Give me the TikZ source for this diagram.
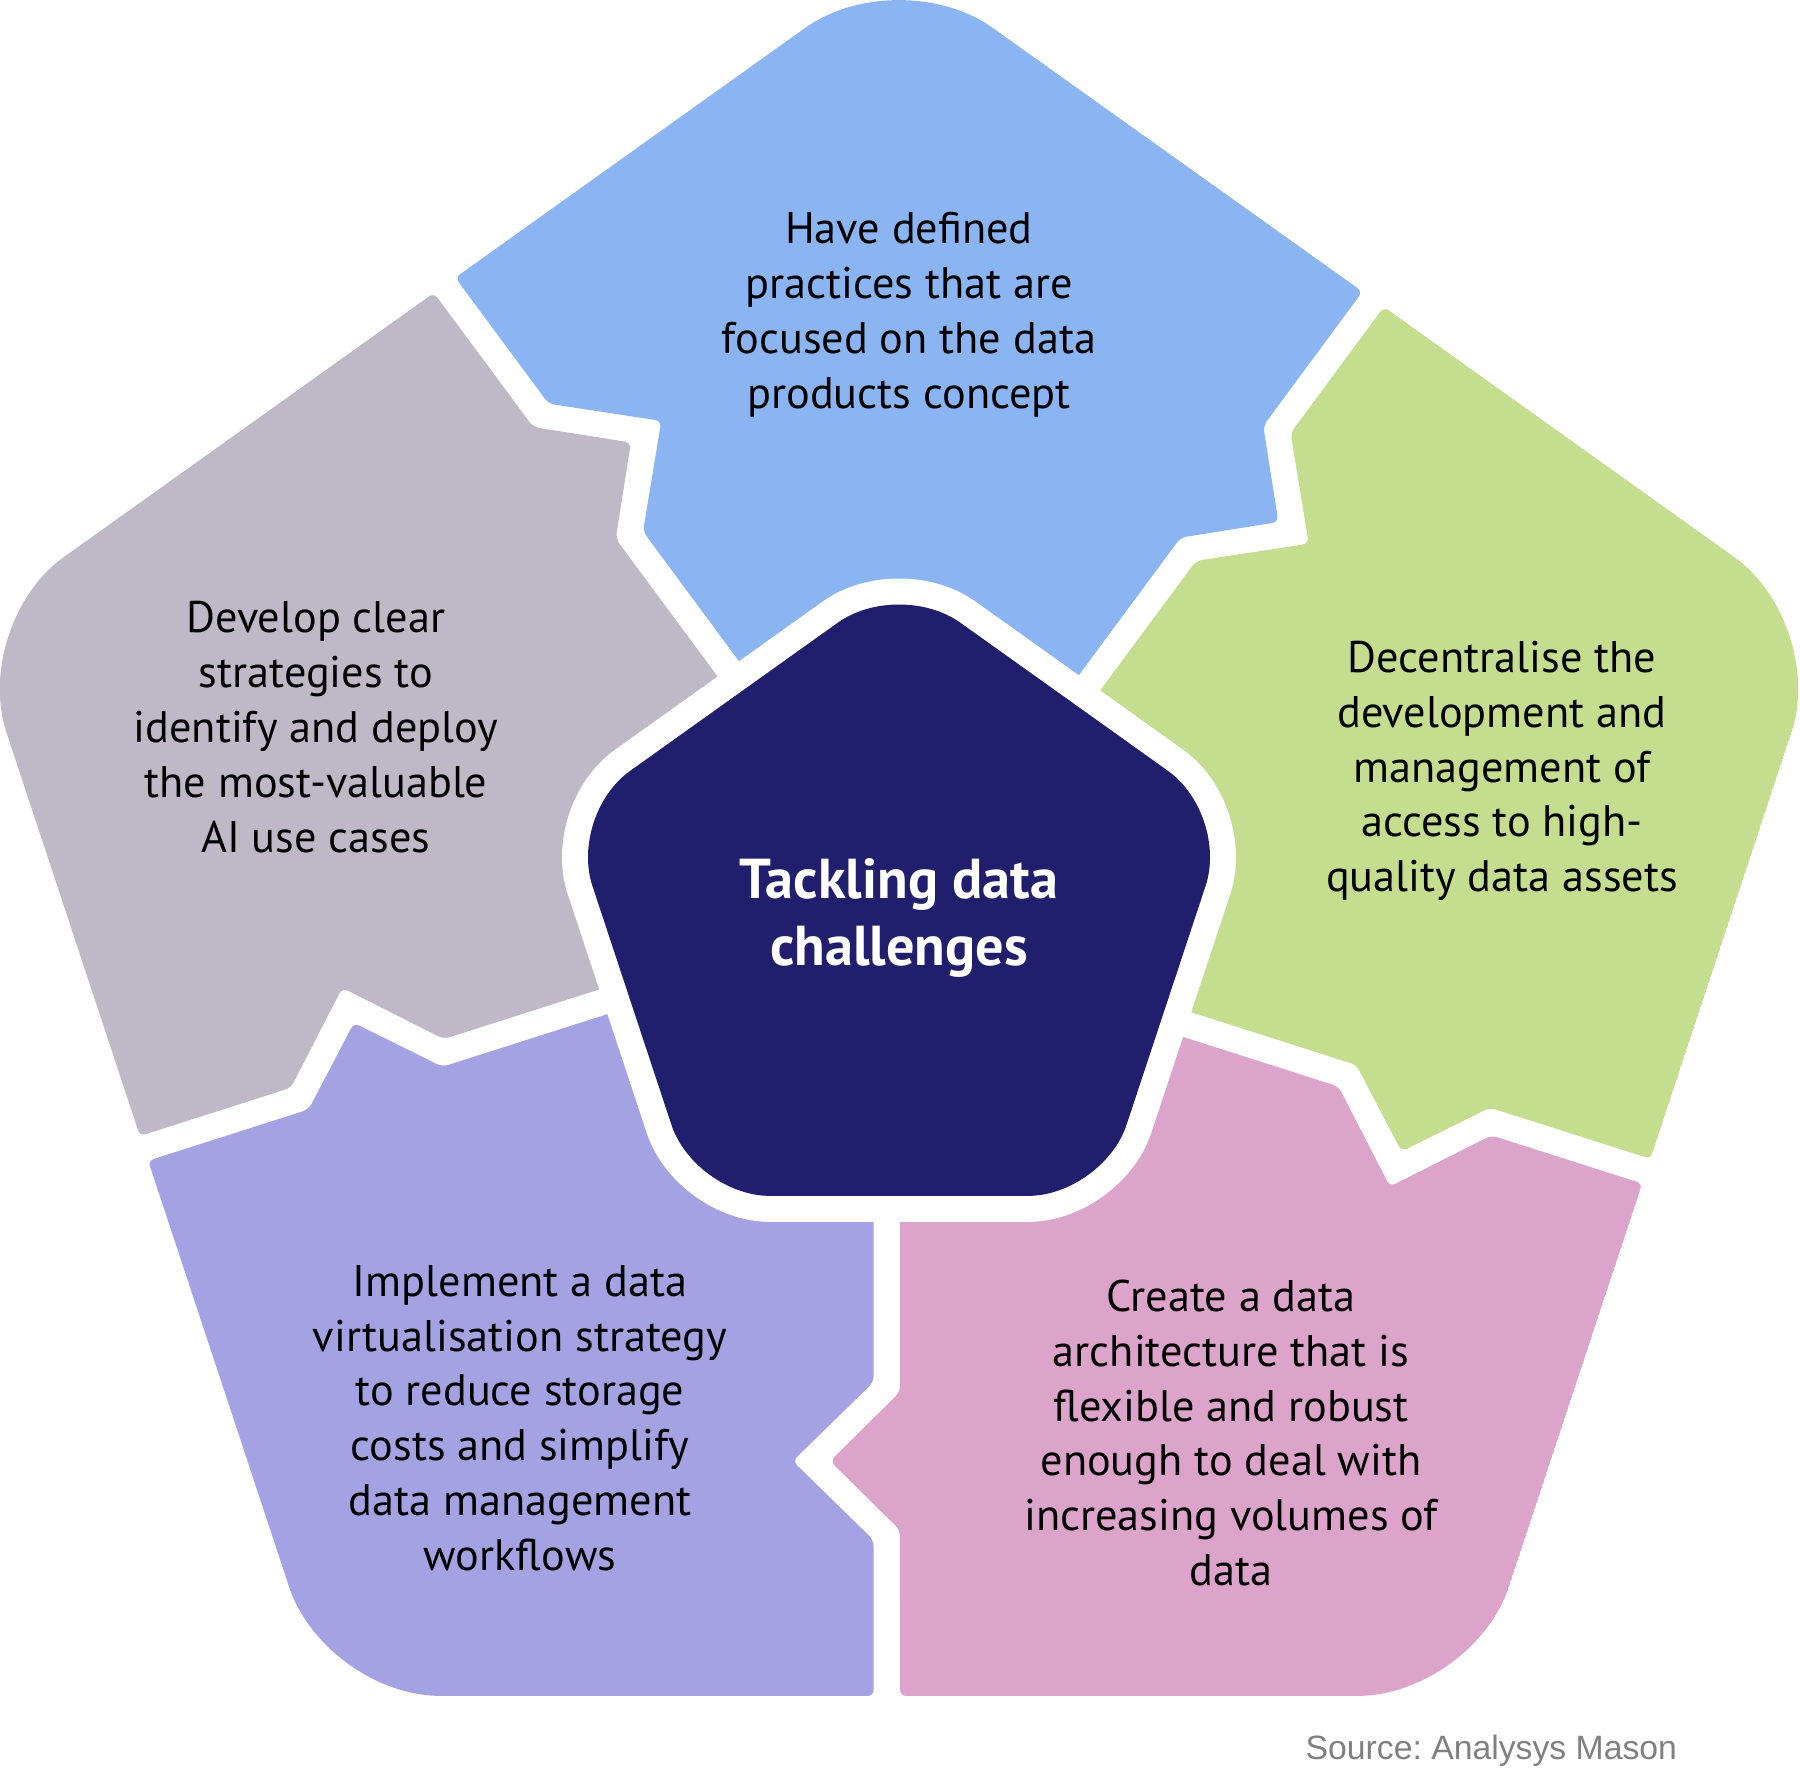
\documentclass[tikz,border=0pt]{standalone}
\usepackage{fontspec}
\setmainfont{PT Sans}
\newfontfamily\sourcefont{Liberation Sans}
\definecolor{topblue}{RGB}{138,180,242}
\definecolor{leafgreen}{RGB}{197,221,143}
\definecolor{softpink}{RGB}{220,163,203}
\definecolor{lavender}{RGB}{165,162,227}
\definecolor{greymauve}{RGB}{191,185,199}
\definecolor{deepnavy}{RGB}{34,30,110}
\definecolor{sourcegrey}{RGB}{128,128,128}
\frenchspacing
\begin{document}
\begin{tikzpicture}[x=0.1mm, y=0.1mm,
    piece/.style={fill=#1, rounded corners=0.6mm},
    blurb/.style={align=center, font=\fontsize{12.6}{15.6}\selectfont}]
  \useasboundingbox (-899,-870) rectangle (901,920);
  \begin{scope}[xscale=1.018]
    \begin{scope}
      \clip[rounded corners=11.5mm] (54:776) -- (18:959) -- (-54:959) -- (-126:959) -- (162:959) -- (90:959) -- cycle;
      % one puzzle piece, turned five times
      \foreach \rot/\col in {0/topblue, -72/leafgreen, -144/softpink, -216/lavender, -288/greymauve}
        \fill[piece=\col, rotate=\rot] (14.8,22.1) -- (276.6,382.4) -- (372.7,398.0) -- (357.8,494.1) -- (455.3,628.4)
          -- (0,959) -- (-435.9,642.5) -- (-344.2,516.3) -- (-233.5,499.1) -- (-251.4,388.5) -- cycle;
    \end{scope}
    \fill[deepnavy, rounded corners=7.5mm, preaction={draw=white, line width=5.2mm}]
      (54:276) -- (18:341) -- (-54:341) -- (-126:341) -- (162:341) -- (90:341) -- cycle;
  \end{scope}
  \node[blurb] (practices) at (10,605) {Have defined\\practices that are\\focused on the data\\products concept};
  \node[blurb] (strategies) at (-583,193) {Develop clear\\strategies to\\identify and deploy\\the most-valuable\\AI use cases};
  \node[blurb] (decentral) at (603,149) {Decentralise the\\development and\\management of\\access to high-\\quality data assets};
  \node[blurb] (virtual) at (-379,-498) {Implement a data\\virtualisation strategy\\to reduce storage\\costs and simplify\\data management\\workflows};
  \node[blurb] (architecture) at (332,-513) {Create a data\\architecture that is\\flexible and robust\\enough to deal with\\increasing volumes of\\data};
  \node[align=center, text=white, font=\bfseries\fontsize{16}{19.2}\selectfont] (hub) at (0,2) {Tackling data\\challenges};
  \node[anchor=base west, inner sep=0pt, text=sourcegrey, font=\sourcefont\fontsize{9.6}{12}\selectfont] (source) at (406,-839) {Source: Analysys Mason};
\end{tikzpicture}
\end{document}
